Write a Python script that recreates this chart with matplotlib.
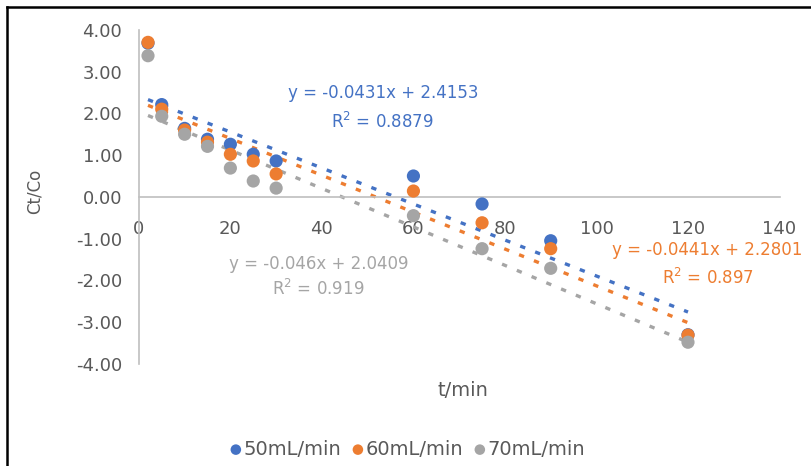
import numpy as np
import matplotlib.pyplot as plt
from matplotlib.lines import Line2D

plt.rcParams['font.family'] = ['DejaVu Sans']

# data
t = [2, 5, 10, 15, 20, 25, 30, 60, 75, 90, 120]
c50 = [3.68, 2.21, 1.64, 1.38, 1.26, 1.02, 0.86, 0.50, -0.17, -1.05, -3.30]
c60 = [3.70, 2.10, 1.60, 1.31, 1.02, 0.86, 0.55, 0.14, -0.62, -1.24, -3.31]
c70 = [3.38, 1.93, 1.50, 1.21, 0.69, 0.38, 0.21, -0.45, -1.24, -1.71, -3.48]
labels = ["50mL/min", "60mL/min", "70mL/min"]
slopes = [-0.0431, -0.0441, -0.046]
intercepts = [2.4153, 2.2801, 2.0409]
eq_lines = ["y = -0.0431x + 2.4153", "y = -0.0441x + 2.2801", "y = -0.046x + 2.0409"]
r2_lines = ["R$^2$ = 0.8879", "R$^2$ = 0.897", "R$^2$ = 0.919"]

colors = ["#4472C4", "#ED7D31", "#A5A5A5"]
text_grey = "#595959"

fig = plt.figure(figsize=(8.12, 4.66), dpi=100)
ax = fig.add_axes([0.171, 0.219, 0.789, 0.717])

series = [c50, c60, c70]
for vals, col, lab in zip(series, colors, labels):
    ax.scatter(t, vals, s=90, color=col, label=lab, zorder=3, edgecolors='none')

xfit = np.array([min(t), max(t)])
for m, b, col in zip(slopes, intercepts, colors):
    ax.plot(xfit, m * xfit + b, color=col, linestyle=(0, (1.6, 3.2)), linewidth=2.4, zorder=2)

ax.set_xlim(0, 140)
ax.set_ylim(-4, 4)
ax.set_xticks(np.arange(0, 141, 20))
ax.set_yticks(np.arange(-4, 4.01, 1))
ax.set_yticklabels([f"{v:.2f}" for v in np.arange(-4, 4.01, 1)])

for s in ['top', 'right']:
    ax.spines[s].set_visible(False)
ax.spines['bottom'].set_position(('data', 0))
ax.spines['bottom'].set_color('#BFBFBF')
ax.spines['left'].set_color('#BFBFBF')
ax.spines['bottom'].set_linewidth(1.2)
ax.spines['left'].set_linewidth(1.2)
ax.tick_params(axis='both', length=0, labelsize=13, labelcolor=text_grey)
ax.tick_params(axis='x', pad=17)
ax.tick_params(axis='y', pad=12)

# trendline labels (positions in data units)
eq_pos = [(53.3, 2.49), (124.2, -1.27), (39.3, -1.60)]
r2_pos = [(53.3, 1.80), (124.4, -1.94), (39.3, -2.20)]
for i in range(3):
    ax.text(*eq_pos[i], eq_lines[i], color=colors[i], ha='center', va='center', fontsize=12)
    ax.text(*r2_pos[i], r2_lines[i], color=colors[i], ha='center', va='center', fontsize=12)

fig.text(0.57, 0.163, "t/min", color=text_grey, fontsize=14, ha='center', va='center')
fig.text(0.043, 0.59, "Ct/Co", color=text_grey, fontsize=12, ha='center', va='center', rotation=90)

fig.legend(loc='center', bbox_to_anchor=(0.502, 0.036), ncol=3, frameon=False, fontsize=14,
           handlelength=0.6, handletextpad=0.1, columnspacing=0.55, markerscale=0.8,
           labelcolor=text_grey)

# frame lines at top and left like the source image
fig.add_artist(Line2D([0.0085, 1.0], [0.985, 0.985], color='black', linewidth=1.8, transform=fig.transFigure))
fig.add_artist(Line2D([0.0085, 0.0085], [0.0, 0.985], color='black', linewidth=1.8, transform=fig.transFigure))

fig.savefig("out.png", dpi=100)
